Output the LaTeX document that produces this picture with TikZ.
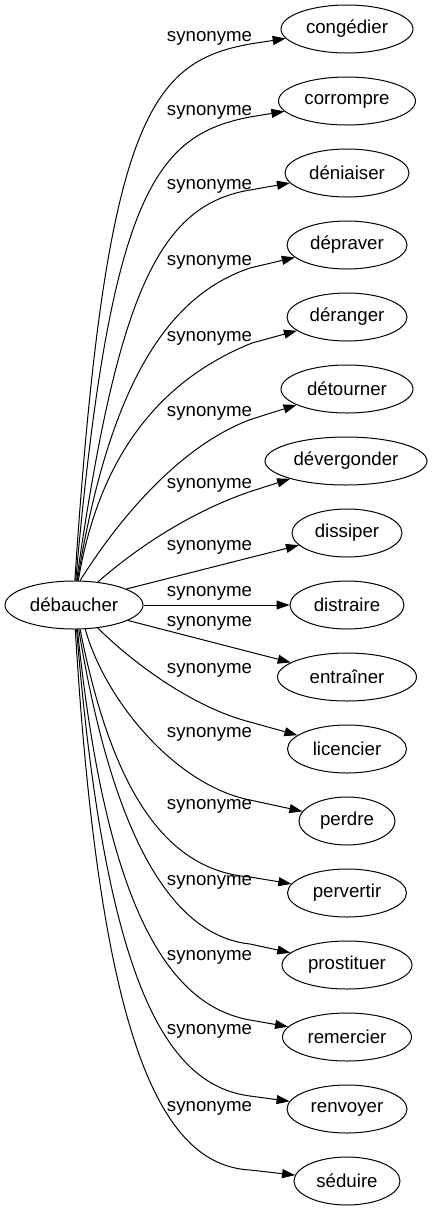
\documentclass[tikz,border=0pt]{standalone}
\usepackage{fontspec}
\setmainfont{Liberation Sans}
\usetikzlibrary{arrows.meta,shapes.geometric}
\begin{document}
\begin{tikzpicture}[x=1pt,y=-1pt,
  every node/.style={font=\fontsize{18.67}{22}\selectfont},
  word/.style={draw, ellipse, line width=1pt, minimum height=48pt, inner sep=0pt},
  lab/.style={inner sep=0pt},
  syn/.style={line width=1pt, -{Triangle[length=13pt,width=9pt]}}]
\useasboundingbox (0,0) rectangle (432,1211);
\node[word, minimum width=138pt] (d) at (74,605) {débaucher};
\node[word, minimum width=132pt] (n0) at (347,29) {congédier};
\node[word, minimum width=137pt] (n1) at (347,101) {corrompre};
\node[word, minimum width=124pt] (n2) at (347,173) {déniaiser};
\node[word, minimum width=120pt] (n3) at (347,245) {dépraver};
\node[word, minimum width=120pt] (n4) at (347,317) {déranger};
\node[word, minimum width=132pt] (n5) at (347,389) {détourner};
\node[word, minimum width=162pt] (n6) at (346,461) {dévergonder};
\node[word, minimum width=110pt] (n7) at (347,533) {dissiper};
\node[word, minimum width=114pt] (n8) at (347,605) {distraire};
\node[word, minimum width=139pt] (n9) at (347,677) {entraîner};
\node[word, minimum width=119pt] (n10) at (347,749) {licencier};
\node[word, minimum width=96pt] (n11) at (347,821) {perdre};
\node[word, minimum width=119pt] (n12) at (347,893) {pervertir};
\node[word, minimum width=130pt] (n13) at (347,965) {prostituer};
\node[word, minimum width=129pt] (n14) at (347,1037) {remercier};
\node[word, minimum width=120pt] (n15) at (347,1109) {renvoyer};
\node[word, minimum width=106pt] (n16) at (347,1181) {séduire};
\foreach \ly [count=\i] in {38,112,186,262,338,413,485,547,593,623,670,734,806,882,957,1031,1108}
  \node[lab] (l\i) at (209.5,\ly) {synonyme};
\draw[syn] (d.88) .. controls (105,120) and (150,62) .. (250,44) -- (n0);
\draw[syn] (d.86) .. controls (110,195) and (155,135) .. (250,117) -- (n1);
\draw[syn] (d.84) .. controls (118,290) and (160,205) .. (250,190) -- (n2);
\draw[syn] (d.82) .. controls (110,380) and (170,295) .. (250,268) -- (n3);
\draw[syn] (d.80) .. controls (100,450) and (165,378) .. (252,343) -- (n4);
\draw[syn] (d.76) .. controls (118,520) and (180,445) .. (252,419) -- (n5);
\draw[syn] (d.44) .. controls (140,545) and (195,510) .. (252,491) -- (n6);
\draw[syn] (d.17) -- (n7);
\draw[syn] (d) -- (n8);
\draw[syn] (d.-16) -- (n9);
\draw[syn] (d.-44) .. controls (135,665) and (195,708) .. (250,722) -- (n10);
\draw[syn] (d.-65) .. controls (105,700) and (175,785) .. (250,800) -- (n11);
\draw[syn] (d.-76) .. controls (110,780) and (160,870) .. (250,877) -- (n12);
\draw[syn] (d.-79) .. controls (110,820) and (165,935) .. (250,944) -- (n13);
\draw[syn] (d.-82) .. controls (105,900) and (165,1005) .. (250,1020) -- (n14);
\draw[syn] (d.-84) .. controls (105,980) and (165,1085) .. (250,1096) -- (n15);
\draw[syn] (d.-87) .. controls (100,1040) and (160,1165) .. (250,1170) -- (n16);
\end{tikzpicture}
\end{document}
